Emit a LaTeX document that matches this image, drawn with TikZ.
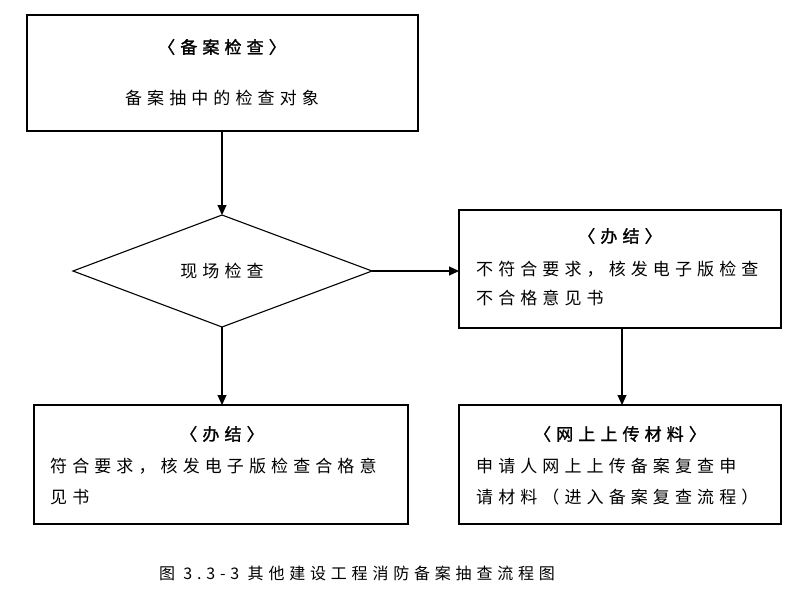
\documentclass[tikz,border=0pt]{standalone}
\usepackage{fontspec}
\setmainfont{Noto Sans CJK SC}[LetterSpace=30]
\newfontfamily\cjkb{Noto Sans CJK SC}[LetterSpace=30,FakeBold=1.5]
\usetikzlibrary{arrows.meta,shapes.geometric}
\begin{document}
\begin{tikzpicture}[x=1pt,y=-1pt,
  box/.style={draw,line width=1.1pt,inner sep=0pt},
  arr/.style={line width=1.1pt,-{Triangle[length=10pt,width=9pt]}},
  t/.style={font=\fontsize{17}{20}\selectfont,inner sep=0pt},
  ttl/.style={font=\fontsize{17}{20}\selectfont\cjkb,inner sep=0pt}]
\useasboundingbox (0,0) rectangle (798,590);
\draw[box] (27,15) rectangle (418,131);
\node[ttl] (t1) at (222,47) {〈备案检查〉};
\node[t] (l1) at (222,98) {备案抽中的检查对象};
\coordinate (b1) at (222,131);
\draw[line width=1.1pt] (222,215) -- (372,271) -- (222,327) -- (73,271) -- cycle;
\node[t] (d) at (222,271) {现场检查};
\coordinate (dt) at (222,215); \coordinate (dr) at (372,271); \coordinate (db) at (222,327);
\draw[box] (459,210) rectangle (781,328);
\node[ttl] (t2) at (620,236) {〈办结〉};
\node[t,anchor=west] (l2a) at (476,269) {不符合要求，核发电子版检查};
\node[t,anchor=west] (l2b) at (476,298) {不合格意见书};
\coordinate (r2l) at (459,271); \coordinate (r2b) at (622,328);
\draw[box] (459,405) rectangle (781,524);
\node[ttl] (t3) at (620,434) {〈网上上传材料〉};
\node[t,anchor=west] (l3a) at (476,466) {申请人网上上传备案复查申};
\node[t,anchor=west] (l3b) at (476,497) {请材料（进入备案复查流程）};
\coordinate (r3t) at (622,405);
\draw[box] (34,405) rectangle (408,524);
\node[ttl] (t4) at (222,434) {〈办结〉};
\node[t,anchor=west] (l4a) at (50,466) {符合要求，核发电子版检查合格意};
\node[t,anchor=west] (l4b) at (50,497) {见书};
\coordinate (r4t) at (222,405);
\draw[arr] (b1) -- (dt);
\draw[arr] (dr) -- (r2l);
\draw[arr] (r2b) -- (r3t);
\draw[arr] (db) -- (r4t);
\node[t,font=\fontsize{16}{18}\selectfont] (cap) at (357,573) {图 3.3-3 其他建设工程消防备案抽查流程图};
\end{tikzpicture}
\end{document}
